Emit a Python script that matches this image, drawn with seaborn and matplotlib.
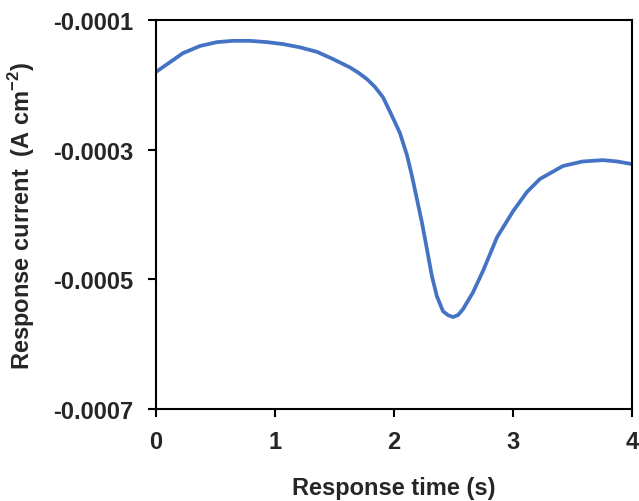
import pandas as pd
import matplotlib
matplotlib.use("Agg")
import matplotlib.pyplot as plt
import seaborn as sns

time_s = [0.0, 0.118, 0.227, 0.370, 0.513, 0.647, 0.790, 0.933, 1.067, 1.210,
          1.353, 1.487, 1.630, 1.700, 1.773, 1.840, 1.908, 1.966, 2.050, 2.109,
          2.151, 2.193, 2.235, 2.277, 2.319, 2.361, 2.412, 2.454, 2.496, 2.538,
          2.580, 2.664, 2.748, 2.866, 3.000, 3.118, 3.227, 3.420, 3.588, 3.756,
          3.874, 3.966, 4.0]
current = [-0.000180, -0.000165, -0.000151, -0.000140, -0.000134, -0.000132,
           -0.000132, -0.000134, -0.000137, -0.000142, -0.000149, -0.000160,
           -0.000173, -0.000181, -0.000191, -0.000203, -0.000219, -0.000241,
           -0.000274, -0.000308, -0.000340, -0.000376, -0.000412, -0.000453,
           -0.000495, -0.000526, -0.000549, -0.000555, -0.000558, -0.000555,
           -0.000546, -0.000520, -0.000487, -0.000435, -0.000395, -0.000365,
           -0.000345, -0.000325, -0.000318, -0.000316, -0.000318, -0.000321,
           -0.000322]

x_ticks = [0, 1, 2, 3, 4]
y_ticks = [-0.0007, -0.0005, -0.0003, -0.0001]
y_tick_labels = ['-0.0007', '-0.0005', '-0.0003', '-0.0001']

df = pd.DataFrame({'time': time_s, 'current': current})

sns.set_style("white")
plt.rcParams['font.family'] = ['Liberation Sans', 'DejaVu Sans']
plt.rcParams['font.weight'] = 'bold'
plt.rcParams['mathtext.fontset'] = 'custom'
plt.rcParams['mathtext.bf'] = 'Liberation Sans:bold'
plt.rcParams['mathtext.rm'] = 'Liberation Sans:bold'

fig = plt.figure(figsize=(6.39, 5.02), dpi=100)
ax = fig.add_axes([0.244, 0.183, 0.745, 0.775])

sns.lineplot(data=df, x='time', y='current', ax=ax, color='#4472C4',
             linewidth=2.7, solid_joinstyle='round', solid_capstyle='round')

ax.set_xlim(0, 4)
ax.set_ylim(-0.0007, -0.0001)
ax.set_xticks(x_ticks)
ax.set_xticklabels([str(t) for t in x_ticks])
ax.set_yticks(y_ticks)
ax.set_yticklabels(y_tick_labels)
ax.tick_params(axis='both', direction='out', length=6, width=1.5, labelsize=17,
               bottom=True, left=True, color='black')
ax.tick_params(axis='y', pad=10)
ax.tick_params(axis='x', pad=9)
for lab in ax.get_xticklabels() + ax.get_yticklabels():
    lab.set_fontweight('bold')

for side in ['left', 'bottom', 'top', 'right']:
    ax.spines[side].set_visible(True)
    ax.spines[side].set_color('black')
    ax.spines[side].set_linewidth(1.5)

ax.set_xlabel('Response time (s)', fontsize=17, fontweight='bold')
ax.set_ylabel('Response current  (A cm$^{\\mathrm{-2}}$)', fontsize=17,
              fontweight='bold')
ax.xaxis.set_label_coords(0.5, -0.172)
ax.yaxis.set_label_coords(-0.25, 0.5)

fig.savefig('out.png', dpi=100)
